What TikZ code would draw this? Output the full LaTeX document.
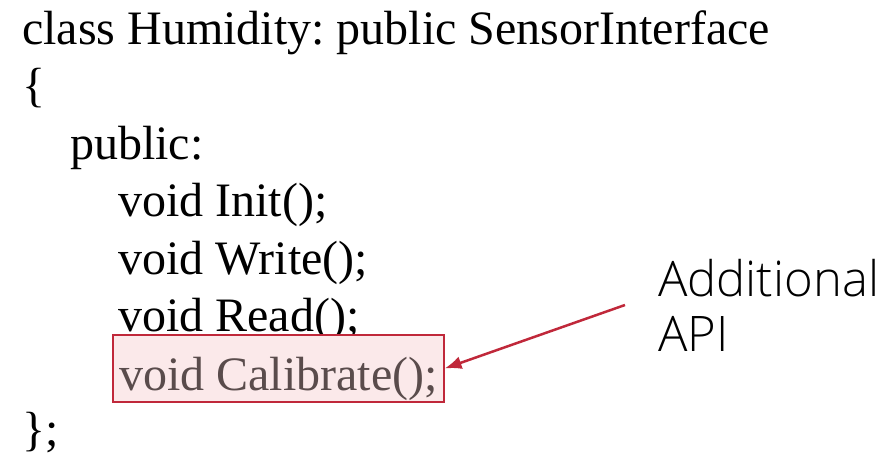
\documentclass[tikz,border=0pt]{standalone}
\usepackage{fontspec}
\setmainfont{Liberation Serif}
\newfontfamily\apifont{Open Sans}[UprightFont=* Light]
\usepackage{xcolor}
\usetikzlibrary{arrows.meta}
\definecolor{boxred}{RGB}{192,40,58}
\definecolor{boxfill}{RGB}{251,233,234}
\definecolor{greytext}{RGB}{90,76,76}
\frenchspacing

\begin{document}
\begin{tikzpicture}[x=1bp, y=-1bp,
    codeline/.style={anchor=base west, inner sep=0pt, font=\fontsize{48bp}{58bp}\selectfont},
    highlight/.style={codeline, draw=boxred, fill=boxfill, line width=2bp,
        inner xsep=6bp, inner ysep=6bp, text height=49bp, text depth=6bp, text=greytext},
    note/.style={anchor=base west, inner sep=0pt, align=left,
        font=\apifont\fontsize{49bp}{55bp}\selectfont},
    pointer/.style={boxred, line width=2.5bp, -{Latex[length=17bp, width=13bp]}}
    ]
    \useasboundingbox (0,0) rectangle (879,455);

    % Class declaration
    \node[codeline] (head) at (22,45) {class Humidity: public SensorInterface};
    \node[codeline] (open) at (22,102) {\{};
    \node[codeline] (pub) at (70,160) {public:};
    \node[codeline] (init) at (118,217) {void Init();};
    \node[codeline] (write) at (118,275) {void Write();};
    \node[codeline] (read) at (118,332) {void Read();};
    \node[highlight] (calib) at (112,390) {void Calibrate();};
    \node[codeline] (close) at (22,445) {\};};

    % Note and pointer
    \node[note] (api) at (658,352) {Additional\\API};
    \coordinate (from) at (625,305);
    \draw[pointer] (from) -- (calib.east);
\end{tikzpicture}
\end{document}
